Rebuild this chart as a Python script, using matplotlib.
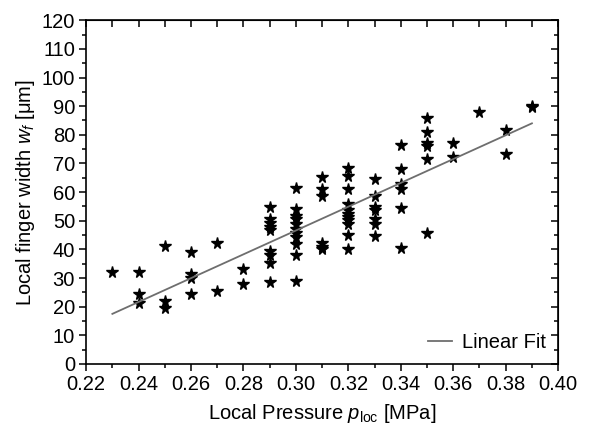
import numpy as np
import matplotlib
matplotlib.use('Agg')
import matplotlib.pyplot as plt
from matplotlib.ticker import MultipleLocator

plt.rcParams['font.family'] = ['Liberation Sans', 'DejaVu Sans']
plt.rcParams['mathtext.fontset'] = 'custom'
plt.rcParams['mathtext.rm'] = 'Liberation Sans'
plt.rcParams['mathtext.it'] = 'Liberation Sans:italic'

# pressure values (MPa) and finger widths (um)
p_loc = [0.23,
         0.24, 0.24, 0.24,
         0.25, 0.25, 0.25,
         0.26, 0.26, 0.26, 0.26,
         0.27, 0.27,
         0.28, 0.28,
         0.29, 0.29, 0.29, 0.29, 0.29, 0.29, 0.29, 0.29, 0.29,
         0.30, 0.30, 0.30, 0.30, 0.30, 0.30, 0.30, 0.30, 0.30, 0.30, 0.30,
         0.31, 0.31, 0.31, 0.31, 0.31, 0.31,
         0.32, 0.32, 0.32, 0.32, 0.32, 0.32, 0.32, 0.32, 0.32, 0.32, 0.32,
         0.33, 0.33, 0.33, 0.33, 0.33, 0.33, 0.33,
         0.34, 0.34, 0.34, 0.34, 0.34, 0.34,
         0.35, 0.35, 0.35, 0.35, 0.35, 0.35,
         0.36, 0.36,
         0.37,
         0.38, 0.38,
         0.39, 0.39]
w_f = [32,
       32, 24.4, 21.4,
       41.3, 22, 19.5,
       39, 31.4, 29.9, 24.4,
       42.3, 25.5,
       33, 28,
       54.8, 50.6, 49.3, 47.9, 46.7, 39.5, 38, 35.3, 28.6,
       61.6, 54.2, 51.6, 50.5, 49, 47, 45.6, 44.2, 42, 38, 29,
       65.4, 61.2, 58.8, 42.3, 41, 40.1,
       68.4, 65.6, 61, 55.8, 53.7, 52.3, 51.2, 50.2, 48.8, 44.9, 40.2,
       64.6, 58.6, 54.7, 53.7, 50.5, 49, 44.6,
       76.5, 68.1, 63, 61.2, 54.4, 40.5,
       86, 80.9, 77, 76.2, 71.4, 45.6,
       77, 72.1,
       87.8,
       81.6, 73.2,
       90.2, 89.8]

# linear fit line endpoints
fit_p = [0.23, 0.39]
fit_w = [17.5, 84.0]

fig = plt.figure(figsize=(5.9, 4.3), dpi=100)
ax = fig.add_axes([0.146, 0.1535, 0.8, 0.7995])

ax.plot(p_loc, w_f, linestyle='none', marker='*', color='black', markersize=8.5)
ax.plot(fit_p, fit_w, color='#6e6e6e', linewidth=1.3, label='Linear Fit')

ax.set_xlim(0.22, 0.40)
ax.set_ylim(0, 120)
ax.xaxis.set_major_locator(MultipleLocator(0.02))
ax.xaxis.set_minor_locator(MultipleLocator(0.01))
ax.yaxis.set_major_locator(MultipleLocator(10))
ax.yaxis.set_minor_locator(MultipleLocator(5))
ax.xaxis.set_major_formatter(plt.FuncFormatter(lambda v, pos: '%.2f' % v))

ax.tick_params(which='both', direction='out', top=False, right=False,
               labelsize=14.5, width=1.1, pad=3)
ax.tick_params(which='major', length=5)
ax.tick_params(which='minor', length=3)
for sp in ax.spines.values():
    sp.set_linewidth(1.2)

# mirrored inward ticks on top and right
sec_x = ax.secondary_xaxis('top')
sec_x.xaxis.set_major_locator(MultipleLocator(0.02))
sec_x.xaxis.set_minor_locator(MultipleLocator(0.01))
sec_x.tick_params(which='both', direction='in', labeltop=False, width=1.1)
sec_x.tick_params(which='major', length=5)
sec_x.tick_params(which='minor', length=5)
sec_y = ax.secondary_yaxis('right')
sec_y.yaxis.set_major_locator(MultipleLocator(10))
sec_y.yaxis.set_minor_locator(MultipleLocator(5))
sec_y.tick_params(which='both', direction='in', labelright=False, width=1.1)
sec_y.tick_params(which='major', length=5)
sec_y.tick_params(which='minor', length=3)

ax.set_xlabel(r'Local Pressure $\mathit{p}_{\mathrm{loc}}$ [MPa]', fontsize=14.5, labelpad=6)
ax.set_ylabel(r'Local finger width $\mathit{w}_{\mathit{f}}$ [μm]', fontsize=14.5, labelpad=3)

ax.legend(loc='lower right', frameon=False, fontsize=14.5, handlelength=1.2,
          handletextpad=0.5, borderaxespad=0.2)

fig.savefig('out.png', dpi=100)
